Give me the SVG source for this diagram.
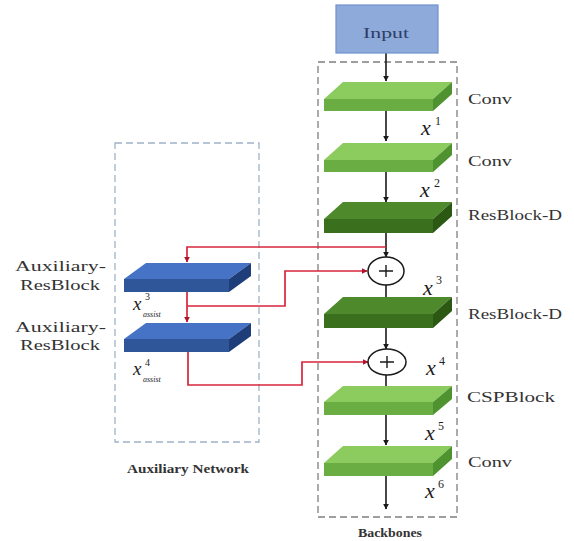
<svg xmlns="http://www.w3.org/2000/svg" width="574" height="541" viewBox="0 0 574 541">
  <defs>
    <marker id="arrowBlack" viewBox="0 0 10 10" refX="9" refY="5" markerWidth="6" markerHeight="6" orient="auto" markerUnits="userSpaceOnUse">
      <path d="M0,0 L10,5 L0,10 z" fill="#1a1a1a"/>
    </marker>
    <marker id="arrowRed" viewBox="0 0 10 10" refX="9" refY="5" markerWidth="6" markerHeight="6" orient="auto" markerUnits="userSpaceOnUse">
      <path d="M0,0 L10,5 L0,10 z" fill="#b0142a"/>
    </marker>
    <style>
      .lbl { font-family: "Liberation Serif", "Times New Roman", serif; font-size: 15px; fill: #333; }
      .cap { font-family: "Liberation Serif", "Times New Roman", serif; font-size: 12px; font-weight: bold; fill: #333; }
      .var { font-family: "Liberation Serif", "Times New Roman", serif; font-style: italic; fill: #1e1e1e; }
      .sup { font-family: "Liberation Serif", "Times New Roman", serif; fill: #1e1e1e; }
      .box { fill: none; stroke-width: 1.3; stroke-dasharray: 7 4; }
      .flow { stroke: #1a1a1a; stroke-width: 1.6; fill: none; marker-end: url(#arrowBlack); }
      .aux { stroke: #d7263d; stroke-width: 1.7; fill: none; }
      .auxArrow { marker-end: url(#arrowRed); }
      .lg-top { fill: #8ccb5e; } .lg-front { fill: #6aad43; } .lg-side { fill: #4f9230; }
      .dg-top { fill: #4e8a2c; } .dg-front { fill: #3a6f1d; } .dg-side { fill: #2b5813; }
      .bl-top { fill: #4673c6; } .bl-front { fill: #2f5699; } .bl-side { fill: #1f3d78; }
      .sum { fill: #fff; stroke: #1a1a1a; stroke-width: 1.5; }
    </style>
  </defs>

  <!-- group frames -->
  <rect class="box" x="318" y="62" width="139" height="455" stroke="#7f7f7f"/>
  <rect class="box" x="115" y="143" width="144" height="299" stroke="#9fb3c8"/>
  <text class="cap" x="188" y="473" text-anchor="middle" textLength="122" lengthAdjust="spacingAndGlyphs">Auxiliary Network</text>
  <text class="cap" x="390" y="537" text-anchor="middle" textLength="64" lengthAdjust="spacingAndGlyphs">Backbones</text>

  <!-- connectors -->
  <g id="connectors">
    <line class="flow" x1="386" y1="53" x2="386" y2="81"/>
    <line class="flow" x1="386" y1="111" x2="386" y2="141"/>
    <line class="flow" x1="386" y1="172" x2="386" y2="202"/>
    <line class="flow" x1="386" y1="233" x2="386" y2="257"/>
    <line class="flow" x1="386" y1="285" x2="386" y2="306"/>
    <line class="flow" x1="386" y1="328" x2="386" y2="349"/>
    <line class="flow" x1="386" y1="375" x2="386" y2="393"/>
    <line class="flow" x1="386" y1="415" x2="386" y2="445"/>
    <line class="flow" x1="386" y1="476" x2="386" y2="509"/>

    <path class="aux auxArrow" d="M386,247 H187 V262"/>
    <path class="aux auxArrow" d="M187,292 V322"/>
    <path class="aux auxArrow" d="M187,306 H285 V271 H367"/>
    <path class="aux auxArrow" d="M188,352 V385 H302 V362 H368"/>
  </g>

  <!-- backbone -->
  <g id="input">
    <rect x="336" y="5" width="102" height="48" fill="#8eaadb" stroke="#7191cb" stroke-width="1.2"/>
    <text class="lbl" x="386" y="38" text-anchor="middle" textLength="46" lengthAdjust="spacingAndGlyphs" style="fill:#2e3d66">Input</text>
  </g>

  <g id="conv1">
    <polygon class="lg-top" points="324,99 433,99 452,82 343,82"/>
    <rect class="lg-front" x="324" y="99" width="109" height="12"/>
    <polygon class="lg-side" points="433,99 452,82 452,94 433,111"/>
    <text class="lbl" x="468" y="104" textLength="44" lengthAdjust="spacingAndGlyphs">Conv</text>
    <text class="var" x="421" y="135" font-size="22">x</text>
    <text class="sup" x="435" y="125" font-size="12">1</text>
  </g>

  <g id="conv2">
    <polygon class="lg-top" points="324,160 433,160 452,143 343,143"/>
    <rect class="lg-front" x="324" y="160" width="109" height="12"/>
    <polygon class="lg-side" points="433,160 452,143 452,155 433,172"/>
    <text class="lbl" x="468" y="166" textLength="44" lengthAdjust="spacingAndGlyphs">Conv</text>
    <text class="var" x="420" y="197" font-size="22">x</text>
    <text class="sup" x="434" y="187" font-size="12">2</text>
  </g>

  <g id="resblock1">
    <polygon class="dg-top" points="324,219 433,219 452,202 343,202"/>
    <rect class="dg-front" x="324" y="219" width="109" height="14"/>
    <polygon class="dg-side" points="433,219 452,202 452,216 433,233"/>
    <text class="lbl" x="468" y="220" textLength="94" lengthAdjust="spacingAndGlyphs">ResBlock-D</text>
  </g>

  <g id="sum1">
    <ellipse class="sum" cx="386" cy="271" rx="18" ry="14"/>
    <path d="M379,271 H393 M386,265 V277" stroke="#1a1a1a" stroke-width="1.4"/>
    <text class="var" x="423" y="295" font-size="22">x</text>
    <text class="sup" x="436" y="284" font-size="12">3</text>
  </g>

  <g id="resblock2">
    <polygon class="dg-top" points="324,314 433,314 452,297 343,297"/>
    <rect class="dg-front" x="324" y="314" width="109" height="14"/>
    <polygon class="dg-side" points="433,314 452,297 452,311 433,328"/>
    <text class="lbl" x="468" y="319" textLength="94" lengthAdjust="spacingAndGlyphs">ResBlock-D</text>
  </g>

  <g id="sum2">
    <ellipse class="sum" cx="387" cy="362" rx="19" ry="13"/>
    <path d="M380,362 H394 M387,356 V368" stroke="#1a1a1a" stroke-width="1.4"/>
    <text class="var" x="426" y="375" font-size="22">x</text>
    <text class="sup" x="439" y="365" font-size="12">4</text>
  </g>

  <g id="cspblock">
    <polygon class="lg-top" points="324,402 433,402 452,386 343,386"/>
    <rect class="lg-front" x="324" y="402" width="109" height="13"/>
    <polygon class="lg-side" points="433,402 452,386 452,399 433,415"/>
    <text class="lbl" x="467" y="402" textLength="88" lengthAdjust="spacingAndGlyphs">CSPBlock</text>
    <text class="var" x="425" y="440" font-size="22">x</text>
    <text class="sup" x="438" y="430" font-size="12">5</text>
  </g>

  <g id="conv3">
    <polygon class="lg-top" points="324,463 433,463 452,446 343,446"/>
    <rect class="lg-front" x="324" y="463" width="109" height="13"/>
    <polygon class="lg-side" points="433,463 452,446 452,459 433,476"/>
    <text class="lbl" x="468" y="467" textLength="44" lengthAdjust="spacingAndGlyphs">Conv</text>
    <text class="var" x="425" y="498" font-size="22">x</text>
    <text class="sup" x="438" y="488" font-size="12">6</text>
  </g>

  <!-- auxiliary branch -->
  <g id="aux1">
    <polygon class="bl-top" points="124,279 229,279 251,263 146,263"/>
    <rect class="bl-front" x="124" y="279" width="105" height="13"/>
    <polygon class="bl-side" points="229,279 251,263 251,276 229,292"/>
    <text class="lbl" x="15" y="271" textLength="91" lengthAdjust="spacingAndGlyphs">Auxiliary-</text>
    <text class="lbl" x="20" y="290" textLength="80" lengthAdjust="spacingAndGlyphs">ResBlock</text>
    <text class="var" x="133" y="310" font-size="19">x</text>
    <text class="sup" x="145" y="300" font-size="10">3</text>
    <text class="var" x="143" y="317" font-size="8">assist</text>
  </g>

  <g id="aux2">
    <polygon class="bl-top" points="124,339 229,339 251,323 146,323"/>
    <rect class="bl-front" x="124" y="339" width="105" height="13"/>
    <polygon class="bl-side" points="229,339 251,323 251,336 229,352"/>
    <text class="lbl" x="15" y="332" textLength="91" lengthAdjust="spacingAndGlyphs">Auxiliary-</text>
    <text class="lbl" x="20" y="350" textLength="80" lengthAdjust="spacingAndGlyphs">ResBlock</text>
    <text class="var" x="133" y="375" font-size="19">x</text>
    <text class="sup" x="145" y="366" font-size="10">4</text>
    <text class="var" x="143" y="382" font-size="8">assist</text>
  </g>
</svg>
